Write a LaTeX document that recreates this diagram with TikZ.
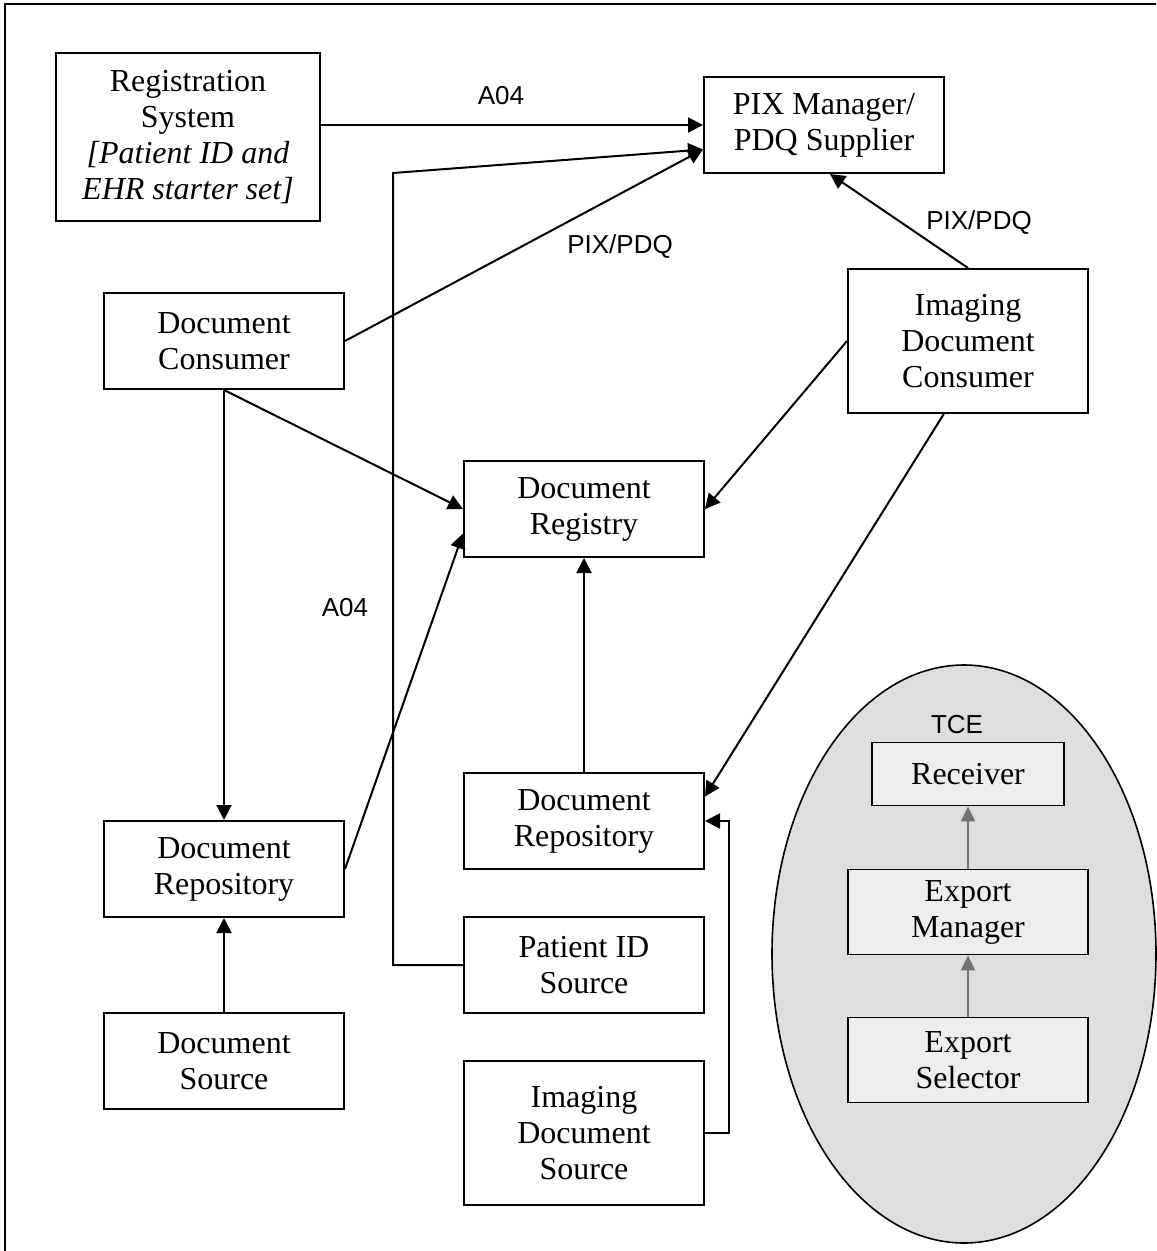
\documentclass[tikz,border=0pt]{standalone}
\usepackage{fontspec}
\setmainfont{Liberation Serif}
\setsansfont{Liberation Sans}
\usepackage{tikz}
\usetikzlibrary{calc}
\usetikzlibrary{shapes.geometric}
\usetikzlibrary{arrows.meta}

\begin{document}
\begin{tikzpicture}[x=0.5pt,y=-0.5pt,
        actor/.style={draw,line width=1pt,rectangle,align=center,minimum width=120pt,minimum height=48pt,inner sep=2pt,font=\fontsize{16}{18}\selectfont},
        tceactor/.style={actor,fill=black!7,line width=0.9pt},
        flow/.style={line width=1pt,-{Triangle[length=7.5pt,width=7.5pt]}},
        tceflow/.style={line width=1pt,draw=black!55,-{Triangle[length=7.5pt,width=7pt]},black!55},
        lbl/.style={font=\sffamily\fontsize{13}{15}\selectfont}]
        \useasboundingbox (0,0) rectangle (1156,1251);
        \draw [line width=1pt] (5,1251) -- (5,4) -- (1156,4);
        % actors
        \node [actor,minimum width=132pt,minimum height=84pt] (reg) at (188,137) {Registration\\System\\\textit{[Patient ID and}\\\textit{EHR starter set]}};
        \node [actor] (pix) at (824,125) {PIX Manager/\\PDQ Supplier};
        \node [actor] (cons) at (224,341) {Document\\Consumer};
        \node [actor,minimum height=72pt] (icons) at (968,341) {Imaging\\Document\\Consumer};
        \node [actor] (registry) at (584,509) {Document\\Registry};
        \node [actor] (repoL) at (224,869) {Document\\Repository};
        \node [actor] (src) at (224,1061) {Document\\Source};
        \node [actor] (repoM) at (584,821) {Document\\Repository};
        \node [actor] (pid) at (584,965) {Patient ID\\Source};
        \node [actor,minimum height=72pt] (isrc) at (584,1133) {Imaging\\Document\\Source};
        % TCE group
        \node [draw,ellipse,line width=0.8pt,fill=black!13,minimum width=192pt,minimum height=289pt] (tce) at (964,954) {};
        \node [lbl] (tcelbl) at (957,725) {TCE};
        \node [tceactor,minimum width=96pt,minimum height=31.5pt] (recv) at (968,774) {Receiver};
        \node [tceactor,minimum height=42.5pt] (expm) at (968,912) {Export\\Manager};
        \node [tceactor,minimum height=42.5pt] (exps) at (968,1060) {Export\\Selector};
        % connectors
        \coordinate (pixin) at ($(pix.west)!0.5!(pix.south west)$);
        \coordinate (pidbend) at (393,173);
        \draw [flow] (reg.east |- pix.west) -- (pix.west);
        \draw [flow] (pid.west) -| (pidbend) -- (pixin);
        \draw [flow] (cons.east) -- (pixin);
        \draw [flow] (icons.north) -- ($(pix.south)+(6,0)$);
        \draw [flow] (cons.south) -- (registry.west);
        \draw [flow] (cons.south) -- (repoL.north);
        \draw [flow] (repoL.east) -- ($(registry.west)!0.5!(registry.south west)$);
        \draw [flow] (icons.west) -- (registry.east);
        \draw [flow] (repoM.north) -- (registry.south);
        \draw [flow] ($(icons.south)!0.2!(icons.south west)$) -- ($(repoM.east)!0.5!(repoM.north east)$);
        \draw [flow] (isrc.east) -- ++(24,0) |- (repoM.east);
        \draw [flow] (src.north) -- (repoL.south);
        \draw [tceflow] (exps.north) -- (expm.south);
        \draw [tceflow] (expm.north) -- (recv.south);
        % labels
        \node [lbl] (a04top) at (501,96) {A04};
        \node [lbl] (pdqleft) at (620,247) {PIX/PDQ};
        \node [lbl] (pdqright) at (979,223) {PIX/PDQ};
        \node [lbl] (a04mid) at (345,608) {A04};
    \end{tikzpicture}
\end{document}
